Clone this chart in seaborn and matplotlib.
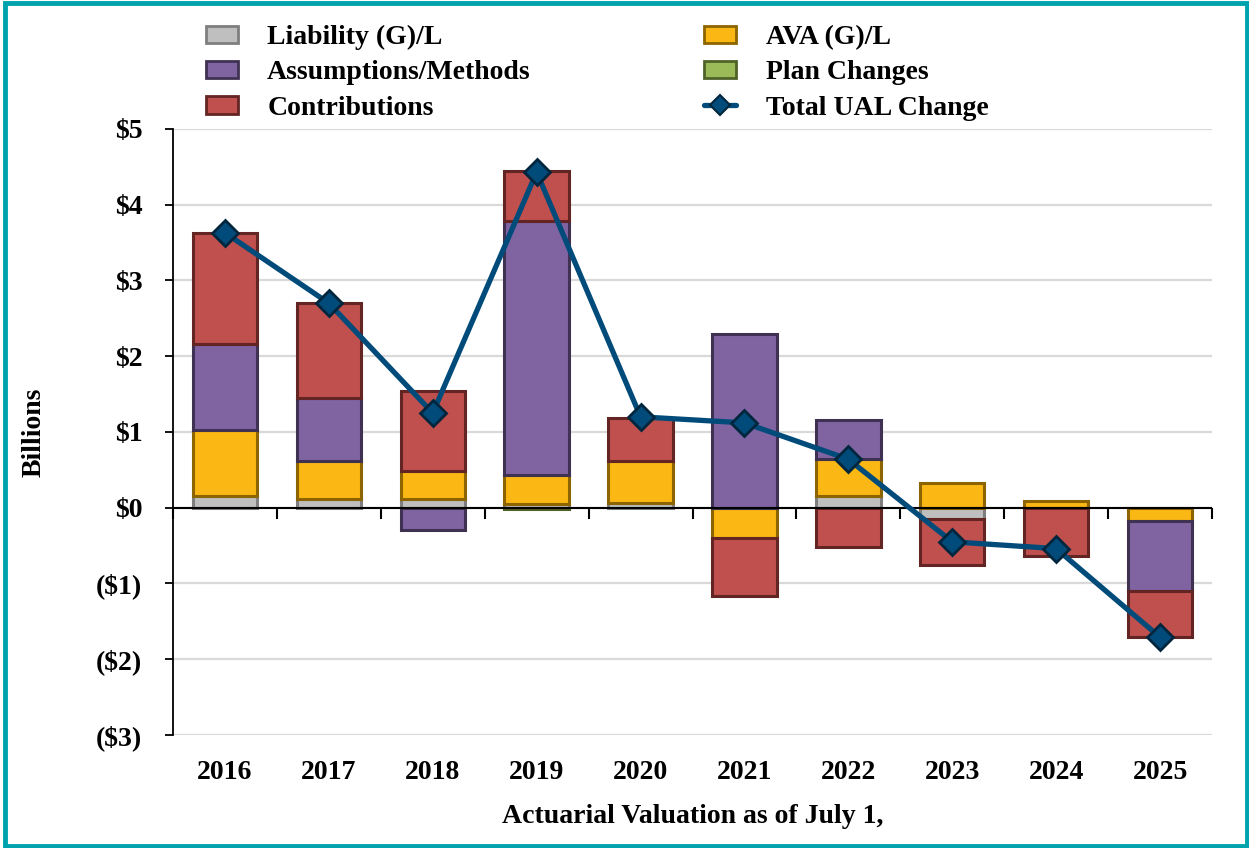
import numpy as np
import seaborn as sns
import matplotlib.pyplot as plt
from matplotlib.patches import Patch, Rectangle
from matplotlib.lines import Line2D

years = ['2016', '2017', '2018', '2019', '2020', '2021', '2022', '2023', '2024', '2025']
liability = [0.16, 0.12, 0.12, 0.05, 0.06, 0.00, 0.15, -0.15, 0.00, 0.00]
ava = [0.86, 0.50, 0.36, 0.38, 0.56, -0.40, 0.49, 0.32, 0.09, -0.18]
assumptions = [1.14, 0.83, -0.29, 3.36, 0.00, 2.29, 0.52, 0.00, 0.00, -0.92]
plan_changes = [0.00, 0.00, 0.00, -0.02, 0.00, 0.00, 0.00, 0.00, 0.00, 0.00]
contributions = [1.47, 1.25, 1.06, 0.65, 0.56, -0.77, -0.52, -0.61, -0.64, -0.61]
total_ual = [3.63, 2.70, 1.25, 4.43, 1.20, 1.12, 0.64, -0.45, -0.54, -1.71]

y_ticks = [-3, -2, -1, 0, 1, 2, 3, 4, 5]
y_labels = ['($3)', '($2)', '($1)', '$0', '$1', '$2', '$3', '$4', '$5']

series = [
    ('Liability (G)/L', liability, '#BFBFBF', '#7F7F7F'),
    ('AVA (G)/L', ava, '#FBB714', '#8C6400'),
    ('Assumptions/Methods', assumptions, '#8064A2', '#3F3151'),
    ('Plan Changes', plan_changes, '#9BBB59', '#4F6228'),
    ('Contributions', contributions, '#C0504D', '#632523'),
]

sns.set_theme(style='white')
plt.rcParams['font.family'] = ['Liberation Serif', 'DejaVu Serif']
plt.rcParams['font.weight'] = 'bold'
plt.rcParams['text.color'] = 'black'
plt.rcParams['axes.labelcolor'] = 'black'
plt.rcParams['xtick.color'] = 'black'
plt.rcParams['ytick.color'] = 'black'

FS = 20

fig = plt.figure(figsize=(12.49, 8.48), dpi=100)
ax = fig.add_axes([0.1385, 0.1333, 0.8319, 0.7146])

x = np.arange(len(years))
pos_base = np.zeros(len(years))
neg_base = np.zeros(len(years))
for name, vals, fc, ec in series:
    v = np.array(vals)
    keep = v != 0
    bottom = np.where(v >= 0, pos_base, neg_base)
    ax.bar(x[keep], v[keep], bottom=bottom[keep], width=0.62, color=fc,
           edgecolor=ec, linewidth=2.2, zorder=3)
    pos_base += np.where(v >= 0, v, 0)
    neg_base += np.where(v < 0, v, 0)

sns.lineplot(x=x, y=total_ual, ax=ax, color='#004B7A', linewidth=3.8,
             marker='D', markersize=13, markerfacecolor='#004B7A',
             markeredgecolor='#00263D', markeredgewidth=2, zorder=5)

ax.set_xlim(-0.5, len(years) - 0.5)
ax.set_ylim(-3, 5)
ax.set_yticks(y_ticks)
ax.set_yticklabels(y_labels)
ax.set_xticks(x)
ax.set_xticklabels(years)
ax.tick_params(axis='x', length=0, pad=18, labelsize=FS)
ax.tick_params(axis='y', length=6, width=1.3, direction='out', left=True,
               labelsize=FS, pad=16, color='black')
ax.yaxis.grid(True, color='#D9D9D9', linewidth=1.6, zorder=0)
ax.set_axisbelow(True)
for s in ['top', 'right', 'bottom']:
    ax.spines[s].set_visible(False)
ax.spines['left'].set_color('black')
ax.spines['left'].set_linewidth(1.3)

# zero line with category boundary ticks
ax.axhline(0, color='black', linewidth=1.5, zorder=4)
sec = ax.secondary_xaxis(3 / 8)
sec.set_xticks(np.arange(-0.5, len(years), 1.0))
sec.tick_params(axis='x', length=8, width=1.5, direction='out', labelbottom=False,
                color='black')
sec.set_xticklabels([])
sec.spines['bottom'].set_visible(False)

ax.set_ylabel('Billions', fontsize=FS, fontweight='bold', labelpad=36)
ax.set_xlabel('Actuarial Valuation as of July 1,', fontsize=FS, fontweight='bold',
              labelpad=14)

handles = [
    Patch(facecolor='#BFBFBF', edgecolor='#7F7F7F', linewidth=2),
    Patch(facecolor='#8064A2', edgecolor='#3F3151', linewidth=2),
    Patch(facecolor='#C0504D', edgecolor='#632523', linewidth=2),
    Patch(facecolor='#FBB714', edgecolor='#8C6400', linewidth=2),
    Patch(facecolor='#9BBB59', edgecolor='#4F6228', linewidth=2),
    Line2D([0], [0], color='#004B7A', linewidth=3.8, marker='D', markersize=10,
           markerfacecolor='#004B7A', markeredgecolor='#00263D', markeredgewidth=1.5),
]
labels = ['Liability (G)/L', 'Assumptions/Methods', 'Contributions',
          'AVA (G)/L', 'Plan Changes', 'Total UAL Change']
fig.legend(handles, labels, ncol=2, loc='upper left', bbox_to_anchor=(0.145, 1.0),
           frameon=False, fontsize=FS, handlelength=1.15, handleheight=0.6,
           handletextpad=1.05, columnspacing=6.25, labelspacing=0.37)

fig.patches.append(Rectangle((0.004, 0.002), 0.994, 0.995, transform=fig.transFigure,
                             fill=False, edgecolor='#00A3AD', linewidth=3.5))

fig.savefig('out.png', dpi=100)
